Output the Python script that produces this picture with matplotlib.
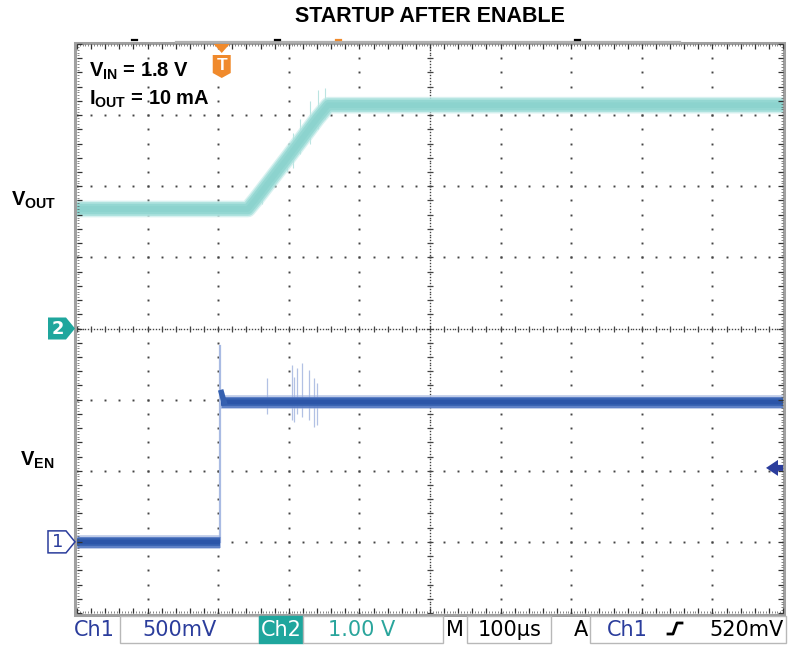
import matplotlib
matplotlib.use("Agg")
import matplotlib.pyplot as plt
from matplotlib.patches import Polygon, Rectangle
import numpy as np

# ---------------- data (read from the scope shot) ----------------
# time axis: 100 us/div, 10 divisions
t_span_us = 1000
# Ch2 = VOUT (1.00 V/div, ground marker at centre line = 4 div)
vout_t = [0, 242, 252, 300, 340, 356, 1000]
vout_v = [1.68, 1.68, 1.80, 2.42, 2.95, 3.14, 3.14]
# faint glitches on VOUT around the ramp (t in us, V hi / V lo)
vout_glitch_t = [262, 298, 306, 316, 330, 342, 351]
vout_glitch_hi = [2.05, 2.55, 2.75, 2.95, 3.20, 3.35, 3.38]
vout_glitch_lo = [1.75, 2.20, 2.25, 2.45, 2.60, 2.80, 2.95]
# Ch1 = VEN (500 mV/div, ground marker at 1 div)
en_edge_t = 202.5
en_low_v = 0.0
en_high_v = 0.98
en_spike_v = 1.38
# faint glitches on VEN
en_glitch_t = [269, 304, 308, 312, 319, 329, 335, 340]
en_glitch_hi = [1.15, 1.24, 1.16, 1.22, 1.255, 1.21, 1.15, 1.12]
en_glitch_lo = [0.90, 0.86, 0.84, 0.90, 0.88, 0.86, 0.805, 0.82]
# trigger
trig_t = 205
trig_level_v = 0.52

ch1_offset_div, ch1_scale = 1.0, 0.5
ch2_offset_div, ch2_scale = 4.0, 1.0

# status bar labels
title = "STARTUP AFTER ENABLE"
status_ch1 = "Ch1"
status_ch1_val = "500mV"
status_ch2 = "Ch2"
status_ch2_val = "1.00 V"
status_m = "M"
status_m_val = "100\u00b5s"
status_a = "A"
status_trig_ch = "Ch1"
status_trig_val = "520mV"

# ---------------- figure ----------------
W, H = 788, 646
fig = plt.figure(figsize=(W / 100, H / 100), dpi=100)
plt.rcParams['mathtext.fontset'] = 'custom'
plt.rcParams['mathtext.rm'] = 'Liberation Sans'
plt.rcParams['mathtext.bf'] = 'Liberation Sans:bold'

L, R, T, B = 77, 783, 44, 613
ax = fig.add_axes([L / W, 1 - B / H, (R - L) / W, (B - T) / H])
ax.set_xlim(0, t_span_us)
ax.set_ylim(0, 8)
ax.axis('off')

ov = fig.add_axes([0, 0, 1, 1], zorder=5)
ov.set_xlim(0, W)
ov.set_ylim(H, 0)
ov.axis('off')
ov.patch.set_alpha(0)

xdiv = t_span_us / 10.0

# ---- graticule ----
dot_c = '#444444'
for k in range(1, 10):
    if k == 5:
        continue
    ys = np.arange(0, 8.001, 0.2)
    ax.plot([k * xdiv] * len(ys), ys, ls='none', marker='s', ms=1.4, mfc=dot_c, mec='none', zorder=1)
for j in range(1, 8):
    if j == 4:
        continue
    xs = np.arange(0, t_span_us + 0.1, xdiv / 5)
    ax.plot(xs, [j] * len(xs), ls='none', marker='s', ms=1.4, mfc=dot_c, mec='none', zorder=1)
xs = np.arange(0, t_span_us + 0.1, xdiv / 25)
ax.plot(xs, [4] * len(xs), ls='none', marker='s', ms=1.0, mfc=dot_c, mec='none', zorder=1)
ys = np.arange(0, 8.001, 0.04)
ax.plot([5 * xdiv] * len(ys), ys, ls='none', marker='s', ms=1.0, mfc=dot_c, mec='none', zorder=1)
xs = np.arange(0, t_span_us + 0.1, xdiv / 5)
ax.plot(xs, [4] * len(xs), ls='none', marker='|', ms=5, mew=0.9, color=dot_c, zorder=1)
ys = np.arange(0, 8.001, 0.2)
ax.plot([5 * xdiv] * len(ys), ys, ls='none', marker='_', ms=5, mew=0.9, color=dot_c, zorder=1)

# border ruler
ov.add_patch(Rectangle((L - 1.5, T - 1.5), R - L + 3, B - T + 3, fill=False, ec='#a0a0a0', lw=2.2, zorder=6))
ov.plot([176, 680], [T - 2.5, T - 2.5], color='#b0b0b0', lw=1.6, zorder=6)
fx = np.arange(L, R + 0.1, (R - L) / 250)
fy = np.arange(T, B + 0.1, (B - T) / 200)
ov.vlines(fx, T, T + 2, color='#555555', lw=0.5, zorder=6)
ov.vlines(fx, B - 2, B, color='#555555', lw=0.5, zorder=6)
ov.hlines(fy, L, L + 2, color='#555555', lw=0.5, zorder=6)
ov.hlines(fy, R - 2, R, color='#555555', lw=0.5, zorder=6)
mx = np.arange(L, R + 0.1, (R - L) / 50)
my = np.arange(T, B + 0.1, (B - T) / 40)
ov.vlines(mx, T, T + 5, color='#333333', lw=0.9, zorder=6)
ov.vlines(mx, B - 5, B, color='#333333', lw=0.9, zorder=6)
ov.hlines(my, L, L + 5, color='#333333', lw=0.9, zorder=6)
ov.hlines(my, R - 5, R, color='#333333', lw=0.9, zorder=6)

for xm, cm in [(135, 'black'), (278, 'black'), (339, '#f08a2c'), (578, 'black')]:
    ov.plot([xm - 2.5, xm + 2.5], [T - 4.5, T - 4.5], color=cm, lw=1.6, zorder=6)

# ---- traces ----
def ch1(v):
    return ch1_offset_div + np.asarray(v, dtype=float) / ch1_scale

def ch2(v):
    return ch2_offset_div + np.asarray(v, dtype=float) / ch2_scale

ax.vlines(vout_glitch_t, ch2(vout_glitch_lo), ch2(vout_glitch_hi), color='#9ed9d5', lw=0.8, alpha=0.7, zorder=2)
for lw, c, a in [(12, '#bfe9e6', 0.6), (10, '#a9e1dd', 0.9), (7.5, '#94d7d2', 1.0), (4, '#8cd3ce', 1.0)]:
    ax.plot(vout_t, ch2(vout_v), color=c, lw=lw, alpha=a, solid_capstyle='butt', zorder=3)

ax.vlines(en_glitch_t, ch1(en_glitch_lo), ch1(en_glitch_hi), color='#9fb2de', lw=0.9, alpha=0.8, zorder=2)
ax.plot([en_edge_t, en_edge_t], ch1([en_low_v, en_spike_v]), color='#a9bbe3', lw=1.6, zorder=2)
for seg_t, seg_v in [([0, en_edge_t], [en_low_v, en_low_v]),
                     ([en_edge_t + 2, t_span_us], [en_high_v, en_high_v])]:
    for lw, c, a in [(10, '#9fb3df', 0.6), (8, '#5478c2', 0.9), (5.5, '#3560b0', 1.0), (3, '#2c55a8', 1.0)]:
        ax.plot(seg_t, ch1(seg_v), color=c, lw=lw, alpha=a, solid_capstyle='butt', zorder=3)
ax.plot([en_edge_t + 2, en_edge_t + 6], ch1([1.05, en_high_v]), color='#3560b0', lw=4, zorder=3)

# ---- markers ----
orange = '#f08a2c'
trig_px = ov.transData.inverted().transform(ax.transData.transform((trig_t, 0)))[0]
ov.add_patch(Polygon([[trig_px - 8, 44], [trig_px + 8, 44], [trig_px, 53]], closed=True, fc=orange, ec='none', zorder=7))
ov.add_patch(Polygon([[trig_px - 9, 55], [trig_px + 9, 55], [trig_px + 9, 73], [trig_px, 78],
                      [trig_px - 9, 73]], closed=True, fc=orange, ec='none', zorder=7))
ov.text(trig_px, 65.5, "T", color='white', fontsize=12.5, fontweight='bold', family='Liberation Sans',
        ha='center', va='center', zorder=8)

ch2_py = ov.transData.inverted().transform(ax.transData.transform((0, ch2(0))))[1]
ch1_py = ov.transData.inverted().transform(ax.transData.transform((0, ch1(0))))[1]
teal_dark = '#1fa69d'
ov.add_patch(Polygon([[48, ch2_py - 11], [66, ch2_py - 11], [75, ch2_py], [66, ch2_py + 11],
                      [48, ch2_py + 11]], closed=True, fc=teal_dark, ec='none', zorder=7))
ov.text(58, ch2_py + 0.5, "2", color='white', fontsize=13, fontweight='bold', family='DejaVu Sans',
        ha='center', va='center', zorder=8)
navy = '#2b3d9c'
ov.add_patch(Polygon([[48, ch1_py - 11], [66, ch1_py - 11], [75, ch1_py], [66, ch1_py + 11],
                      [48, ch1_py + 11]], closed=True, fc='white', ec=navy, lw=1.1, zorder=7))
ov.text(58, ch1_py + 0.5, "1", color=navy, fontsize=13, family='DejaVu Sans',
        ha='center', va='center', zorder=8)
tl_py = ov.transData.inverted().transform(ax.transData.transform((0, ch1(trig_level_v))))[1]
ov.add_patch(Polygon([[766, tl_py], [778, tl_py - 8], [778, tl_py - 3], [783, tl_py - 3],
                      [783, tl_py + 3], [778, tl_py + 3], [778, tl_py + 8]], closed=True,
                     fc=navy, ec='none', zorder=8))

# ---- text ----
ov.text(430, 16, title, fontsize=15.5, fontweight='bold', family='Liberation Sans', ha='center', va='center')
ov.text(89, 71, r'$\mathbf{V}_{\mathbf{IN}}$' + ' = 1.8 V', fontsize=14.5, fontweight='bold',
        family='Liberation Sans', ha='left', va='center')
ov.text(89, 99, r'$\mathbf{I}_{\mathbf{OUT}}$' + ' = 10 mA', fontsize=14.5, fontweight='bold',
        family='Liberation Sans', ha='left', va='center')
ov.text(11, 200, r'$\mathbf{V}_{\mathbf{OUT}}$', fontsize=14.5, family='Liberation Sans', ha='left', va='center')
ov.text(20, 460, r'$\mathbf{V}_{\mathbf{EN}}$', fontsize=14.5, family='Liberation Sans', ha='left', va='center')

# ---- status bar ----
box_ec = '#b8b8b8'
sy0, sy1 = 616, 643
def sbox(x0, x1, fc='white', ec=box_ec):
    ov.add_patch(Rectangle((x0, sy0), x1 - x0, sy1 - sy0, fc=fc, ec=ec, lw=1.0, zorder=6))

sbox(120, 259)
sbox(259, 303, fc=teal_dark, ec=teal_dark)
sbox(303, 443)
sbox(467, 551)
sbox(590, 786)
sfs = 15
base = 636
kw = dict(fontsize=sfs, family='DejaVu Sans', va='baseline', zorder=8)
ov.text(74, base, status_ch1, color=navy, ha='left', **kw)
ov.text(180, base, status_ch1_val, color=navy, ha='center', **kw)
ov.text(281, base, status_ch2, color='white', ha='center', **kw)
ov.text(362, base, status_ch2_val, color='#2aa59c', ha='center', **kw)
ov.text(446, base, status_m, color='black', ha='left', **kw)
ov.text(510, base, status_m_val, color='black', ha='center', **kw)
ov.text(574, base, status_a, color='black', ha='left', **kw)
ov.text(607, base, status_trig_ch, color=navy, ha='left', **kw)
ov.plot([668, 673, 677, 682], [634, 634, 623, 623], color='black', lw=2.0, zorder=8)
ov.text(784, base, status_trig_val, color='black', ha='right', **kw)

fig.savefig("out.png", dpi=100, facecolor='white')
